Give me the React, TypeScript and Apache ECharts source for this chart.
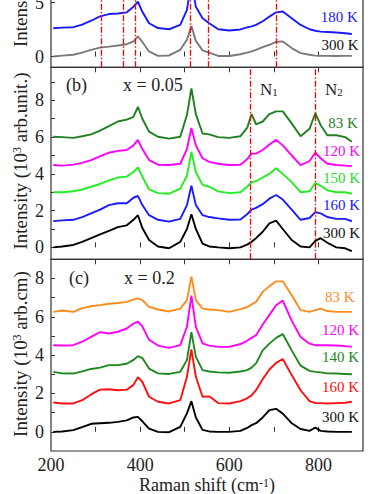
import React, { useEffect, useRef } from 'react';
import * as echarts from 'echarts';

// Raman shift sample positions (cm^-1)
const X = [205, 225, 250, 270, 290, 310, 330, 350, 370, 385, 395, 405, 420, 440, 465, 490, 505, 515, 525, 540, 555, 575, 600, 625, 640, 650, 660, 675, 690, 705, 720, 740, 760, 780, 793, 805, 820, 840, 860, 875];

// Panel (a) (partially visible)
const A180 = [2.62, 2.68, 2.72, 2.96, 3.32, 3.73, 3.94, 3.99, 4.1, 4.62, 5.08, 4.15, 3.09, 2.64, 2.53, 2.93, 4.32, 7.0, 4.62, 3.55, 3.09, 2.53, 2.41, 2.51, 2.7, 2.8, 2.93, 3.27, 3.7, 4.1, 4.17, 3.55, 2.93, 2.53, 2.39, 2.31, 2.28, 2.23, 2.16, 2.09];
const A300 = [0.0, 0.08, 0.16, 0.36, 0.62, 0.83, 0.92, 1.02, 1.14, 1.4, 1.86, 1.35, 0.47, 0.06, 0.1, 0.62, 1.55, 2.84, 1.45, 0.57, 0.37, 0.05, 0.05, 0.21, 0.36, 0.47, 0.62, 0.88, 1.09, 1.35, 1.4, 0.78, 0.31, 0.16, 0.08, 0.06, 0.06, 0.05, 0.06, 0.06];
const A_MARKS = [313, 363, 390, 512, 553, 705];

// Panel (b) x = 0.05
const B300 = [0.0, 0.05, 0.13, 0.3, 0.5, 0.7, 0.9, 1.1, 1.2, 1.5, 1.75, 1.05, 0.4, 0.05, -0.05, 0.3, 1.0, 1.8, 1.0, 0.2, 0.05, 0.0, -0.05, 0.0, 0.15, 0.3, 0.5, 0.85, 1.3, 1.45, 1.0, 0.4, 0.05, 0.0, 0.35, 0.5, 0.25, 0.0, -0.05, -0.2];
const B160 = [1.43, 1.47, 1.5, 1.65, 1.85, 2.05, 2.3, 2.4, 2.4, 2.7, 2.8, 2.3, 1.75, 1.5, 1.4, 1.55, 2.3, 3.35, 2.3, 1.75, 1.65, 1.58, 1.5, 1.52, 1.8, 2.05, 2.15, 2.35, 2.65, 2.85, 2.6, 2.05, 1.5, 1.6, 1.92, 1.85, 1.65, 1.55, 1.55, 1.42];
const B150 = [3.0, 3.0, 3.05, 3.15, 3.3, 3.45, 3.65, 3.8, 3.85, 4.1, 4.35, 3.85, 3.15, 2.95, 2.92, 3.2, 3.9, 5.2, 4.1, 3.4, 3.3, 3.05, 2.95, 3.0, 3.3, 3.55, 3.6, 3.8, 4.0, 4.3, 4.0, 3.55, 3.0, 3.05, 3.5, 3.35, 3.1, 3.0, 3.0, 2.92];
const B120 = [4.48, 4.45, 4.5, 4.6, 4.75, 4.95, 5.15, 5.25, 5.3, 5.55, 5.85, 5.35, 4.75, 4.5, 4.48, 4.55, 5.35, 6.5, 5.55, 4.85, 4.65, 4.55, 4.48, 4.5, 4.8, 5.1, 5.1, 5.3, 5.6, 5.85, 5.55, 5.0, 4.48, 4.7, 5.15, 4.85, 4.55, 4.48, 4.45, 4.42];
const B83 = [6.02, 6.0, 5.96, 6.05, 6.15, 6.35, 6.6, 6.85, 6.95, 7.1, 7.65, 7.0, 6.3, 6.02, 5.92, 6.02, 7.2, 8.65, 7.25, 6.2, 6.15, 6.0, 5.96, 6.05, 6.5, 7.25, 6.7, 6.85, 7.25, 7.4, 7.4, 6.75, 6.05, 6.45, 7.3, 6.65, 6.1, 6.1, 6.0, 5.75];
const B_MARKS = [647, 793];

// Panel (c) x = 0.2
const C300 = [0.0, 0.02, 0.09, 0.25, 0.42, 0.45, 0.47, 0.52, 0.6, 0.75, 0.78, 0.55, 0.17, 0.0, -0.02, 0.26, 0.96, 1.6, 0.75, 0.1, 0.02, 0.0, 0.0, 0.05, 0.2, 0.35, 0.45, 0.75, 1.13, 1.2, 0.95, 0.45, 0.15, 0.05, 0.22, 0.05, 0.02, 0.0, 0.0, 0.0];
const C160 = [1.53, 1.48, 1.48, 1.65, 1.95, 2.2, 2.22, 2.17, 2.2, 2.45, 2.85, 2.6, 1.83, 1.57, 1.48, 1.65, 2.87, 4.3, 2.87, 1.83, 1.85, 1.5, 1.48, 1.6, 1.75, 1.9, 2.17, 2.75, 3.25, 3.6, 3.8, 2.96, 2.17, 1.6, 1.5, 1.5, 1.48, 1.5, 1.52, 1.57];
const C140 = [3.13, 3.05, 3.04, 3.15, 3.28, 3.35, 3.48, 3.48, 3.55, 3.75, 3.95, 3.85, 3.3, 3.05, 3.02, 3.13, 3.74, 5.2, 3.91, 3.22, 3.15, 3.1, 3.08, 3.15, 3.22, 3.35, 3.57, 4.25, 4.6, 4.9, 5.1, 4.25, 3.45, 3.18, 3.13, 3.1, 3.05, 3.04, 3.02, 3.0];
const C120 = [4.52, 4.5, 4.52, 4.7, 4.95, 5.2, 5.13, 5.22, 5.39, 5.65, 5.75, 5.5, 4.8, 4.5, 4.38, 4.52, 5.48, 7.1, 5.48, 4.61, 4.5, 4.43, 4.43, 4.58, 4.75, 4.9, 5.04, 5.6, 6.1, 6.6, 6.85, 5.8, 4.95, 4.6, 4.52, 4.52, 4.52, 4.5, 4.47, 4.43];
const C83 = [6.26, 6.33, 6.26, 6.45, 6.55, 6.61, 6.68, 6.72, 6.78, 6.9, 6.96, 6.87, 6.52, 6.38, 6.28, 6.43, 6.87, 8.1, 6.87, 6.43, 6.38, 6.35, 6.26, 6.4, 6.5, 6.65, 6.78, 7.3, 7.6, 7.85, 7.85, 7.13, 6.35, 6.26, 6.35, 6.43, 6.3, 6.26, 6.26, 6.26];

// Tick values
const X_TICKS = [300, 400, 500, 600, 700, 800];
const X_LABELS = [200, 400, 600, 800];
const Y_TICKS = [0, 1, 2, 3, 4, 5, 6, 7, 8, 9];
const Y_LABELS = [0, 2, 4, 6, 8];
const A_TICKS = [0, 5];

// Curve label anchors [x, y] in data units
const A_LABEL_POS = [[805, 3.7], [807, 1.08]];
const B_LABEL_POS = [[810, 0.76], [810, 2.28], [810, 3.8], [810, 5.25], [822, 6.77]];
const C_LABEL_POS = [[808, 0.78], [808, 2.35], [808, 3.9], [808, 5.3], [815, 7.04]];

const FONT = '"Liberation Serif", "Times New Roman", serif';
const INK = '#222';
const OFF = 41; // the figure's top panel extends above the visible window

const pairs = (ys: number[]) => X.map((x, i) => [x, ys[i]]);

export default function App() {
  const ref = useRef<HTMLDivElement>(null);

  useEffect(() => {
    const chart = echarts.init(ref.current!, null, { renderer: 'svg' });

    const gridBase = { left: 51, width: 312, show: true, borderColor: '#333', borderWidth: 1.2, backgroundColor: 'transparent' };
    const grids = [
      { ...gridBase, top: OFF - 40.5, height: 107.8 },
      { ...gridBase, top: OFF + 67.3, height: 192 },
      { ...gridBase, top: OFF + 259.3, height: 191.7 },
    ];
    const yRanges = [[-1, 9], [-0.65, 9.8], [-1, 9]];

    const xAxes: any[] = [];
    const yAxes: any[] = [];
    grids.forEach((_, i) => {
      ['bottom', 'top'].forEach((pos) => {
        xAxes.push({
          type: 'value', gridIndex: i, position: pos, min: 200, max: 900,
          axisLine: { show: false }, splitLine: { show: false },
          axisTick: { show: true, inside: true, length: 5, customValues: X_TICKS, lineStyle: { color: '#333', width: 1 } },
          axisLabel: {
            show: i === 2 && pos === 'bottom', customValues: X_LABELS, margin: 5,
            fontSize: 18, lineHeight: 17, fontFamily: FONT, color: INK,
          },
        });
      });
      yAxes.push({
        type: 'value', gridIndex: i, min: yRanges[i][0], max: yRanges[i][1],
        axisLine: { show: false }, splitLine: { show: false },
        axisTick: { show: true, inside: true, length: 4, customValues: i === 0 ? A_TICKS : Y_TICKS, lineStyle: { color: '#333', width: 1 } },
        axisLabel: { show: true, customValues: i === 0 ? A_TICKS : Y_LABELS, margin: 7, fontSize: 18, fontFamily: FONT, color: INK },
      });
    });

    const redLine = (vals: number[]) => ({
      silent: true, symbol: 'none', animation: false,
      label: { show: false },
      lineStyle: { color: '#ff0000', width: 1.3, type: [6, 2, 1.5, 2] },
      data: vals.map((v) => ({ xAxis: v })),
    });

    const mk = (panel: number, name: string, ys: number[], color: string, pos: number[], labelColor: string, marks?: number[]) => ({
      type: 'line', name, xAxisIndex: panel * 2, yAxisIndex: panel,
      data: pairs(ys), showSymbol: false, symbol: 'none',
      lineStyle: { color, width: 1.9 }, itemStyle: { color },
      z: 2,
      markPoint: {
        silent: true, symbol: 'rect', symbolSize: 1, itemStyle: { color: 'rgba(0,0,0,0)' },
        label: { show: true, position: 'inside', align: 'left', verticalAlign: 'middle', formatter: name, color: labelColor, fontSize: 15, fontFamily: FONT },
        data: [{ coord: pos }],
      },
      ...(marks ? { markLine: redLine(marks) } : {}),
    });

    const series = [
      mk(0, '180 K', A180, '#1a1aff', A_LABEL_POS[0], '#1a1aff'),
      mk(0, '300 K', A300, '#7a7a7a', A_LABEL_POS[1], '#111', A_MARKS),
      mk(1, '300 K', B300, '#000000', B_LABEL_POS[0], '#111'),
      mk(1, '160 K', B160, '#1a1aff', B_LABEL_POS[1], '#1a1aff'),
      mk(1, '150 K', B150, '#22ee22', B_LABEL_POS[2], '#22dd22'),
      mk(1, '120 K', B120, '#ff00ff', B_LABEL_POS[3], '#ff00ff'),
      mk(1, '83 K', B83, '#1e801e', B_LABEL_POS[4], '#1e801e', B_MARKS),
      mk(2, '300 K', C300, '#000000', C_LABEL_POS[0], '#111'),
      mk(2, '160 K', C160, '#ff1010', C_LABEL_POS[1], '#ff1010'),
      mk(2, '140 K', C140, '#1e881e', C_LABEL_POS[2], '#1e881e'),
      mk(2, '120 K', C120, '#ff00ff', C_LABEL_POS[3], '#ff00ff'),
      mk(2, '83 K', C83, '#ff8c1a', C_LABEL_POS[4], '#ff8c1a'),
    ];

    const supRich = { sup: { fontSize: 12, fontFamily: FONT, fill: INK, verticalAlign: 'top' } };
    const txt = (text: string, x: number, y: number, size = 18, extra: any = {}) => ({
      type: 'text', x, y: y + OFF, silent: true,
      style: { text, fontSize: size, fontFamily: FONT, fill: INK, align: 'left', verticalAlign: 'middle', ...extra },
    });
    const rotName = (text: string, x: number, y: number, align: string) => ({
      type: 'text', x, y: y + OFF, rotation: Math.PI / 2, silent: true,
      style: { text, fontSize: 19, fontFamily: FONT, fill: INK, align, verticalAlign: 'middle', rich: supRich },
    });
    const subRich = { sub: { fontSize: 11, fontFamily: FONT, fill: INK, verticalAlign: 'bottom' } };

    const graphic = [
      txt('(b)', 66, 85),
      txt('x = 0.05', 123, 85),
      txt('(c)', 69, 278),
      txt('x = 0.2', 124, 278),
      txt('N{sub|1}', 260, 89, 17, { rich: subRich }),
      txt('N{sub|2}', 325, 89, 17, { rich: subRich }),
      rotName('Intensity (10{sup|3} arb.unit.)', 20, 47, 'left'),
      rotName('Intensity (10{sup|3} arb.unit.)', 20, 161, 'center'),
      rotName('Intensity (10{sup|3} arb.cm)', 20, 354, 'center'),
      {
        type: 'text', x: 207, y: 485 + OFF, silent: true,
        style: { text: 'Raman shift (cm{sup|-1})', fontSize: 18, lineHeight: 17, fontFamily: FONT, fill: INK, align: 'center', verticalAlign: 'middle', rich: supRich },
      },
    ];

    chart.setOption({
      animation: false,
      backgroundColor: '#ffffff',
      grid: grids,
      xAxis: xAxes,
      yAxis: yAxes,
      series,
      graphic,
    });

    return () => chart.dispose();
  }, []);

  return (
    <div
      ref={ref}
      style={{ position: 'absolute', left: 0, top: -OFF, width: 382, height: 494 + OFF, background: '#fff' }}
    />
  );
}
